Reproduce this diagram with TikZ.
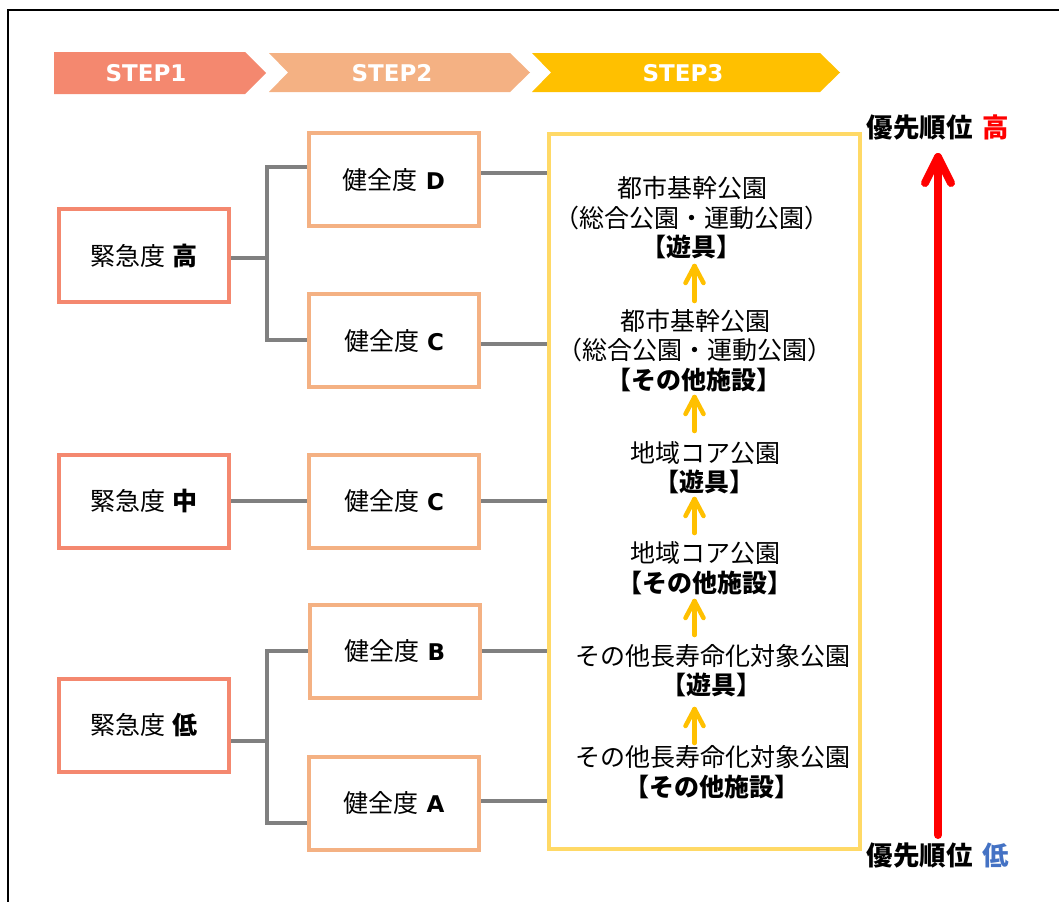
\documentclass[tikz,border=0pt]{standalone}
\usepackage{fontspec}
\setmainfont{Noto Sans CJK JP}
\newfontfamily\lat{DejaVu Sans}
\usetikzlibrary{calc}
\definecolor{salmon}{HTML}{F4886F}
\definecolor{peach}{HTML}{F4B183}
\definecolor{gold}{HTML}{FFC000}
\definecolor{ylw}{HTML}{FFD966}
\definecolor{lgray}{HTML}{808080}
\definecolor{lowblue}{HTML}{4472C4}
\definecolor{hired}{HTML}{FF0000}
\newcommand{\ltr}[1]{{\lat\bfseries\fontsize{23}{28}\selectfont #1}}
\begin{document}
\begin{tikzpicture}[x=1pt,y=-1pt,
  urg/.style={draw=salmon, line width=4pt, minimum width=170pt, minimum height=93pt, inner sep=0pt, font=\fontsize{25}{28}\selectfont},
  hlt/.style={draw=peach, line width=4pt, minimum width=170pt, minimum height=93pt, inner sep=0pt, font=\fontsize{25}{28}\selectfont},
  ybox/.style={draw=ylw, line width=4pt, minimum width=311pt, minimum height=715pt, inner sep=0pt},
  conn/.style={draw=lgray, line width=4pt},
  ln/.style={anchor=base, inner sep=0pt, font=\fontsize{25}{28}\selectfont},
  bln/.style={anchor=base, inner sep=0pt, font=\fontsize{25}{28}\selectfont\bfseries},
  yarr/.style={draw=gold, line width=4.5pt, line cap=round, line join=round},
  rarr/.style={draw=hired, line width=8pt, line cap=round, line join=round},
  steptxt/.style={text=white, inner sep=0pt, font=\lat\bfseries\fontsize{23}{26}\selectfont},
  plabel/.style={anchor=base, inner sep=0pt, font=\fontsize{26.5}{30}\selectfont\bfseries}
]
\useasboundingbox (0,0) rectangle (1059,902);
% outer frame
\draw[line width=2.5pt] (1059,10) -- (8,10) -- (8,902);

% step chevrons
\fill[salmon] (54,52) -- (245,52) -- (266,73) -- (245,94) -- (54,94) -- cycle;
\node[steptxt] (s1) at (146,73) {STEP1};
\fill[peach] (269,53) -- (510,53) -- (530,72.5) -- (510,92) -- (269,92) -- (288,72.5) -- cycle;
\node[steptxt] (s2) at (392,73) {STEP2};
\fill[gold] (532,53) -- (820,53) -- (840,72.5) -- (820,92) -- (532,92) -- (551,72.5) -- cycle;
\node[steptxt] (s3) at (683,73) {STEP3};

% urgency boxes
\node[urg] (hi) at (144,255.5) {緊急度\hspace{7pt}{\bfseries 高}};
\node[urg] (mid) at (144,501) {緊急度\hspace{7pt}{\bfseries 中}};
\node[urg] (lo) at (144,725) {緊急度\hspace{7pt}{\bfseries 低}};

% health boxes
\node[hlt] (D) at (394,179.5) {健全度\hspace{8pt}\ltr{D}};
\node[hlt] (C1) at (394,340.5) {健全度\hspace{8pt}\ltr{C}};
\node[hlt] (Cm) at (394,501) {健全度\hspace{8pt}\ltr{C}};
\node[hlt] (B) at (395,651) {健全度\hspace{8pt}\ltr{B}};
\node[hlt] (A) at (394,803) {健全度\hspace{8pt}\ltr{A}};

% step3 box
\node[ybox] (Y) at (704.5,491.5) {};

% connectors left
\coordinate (j1) at (267,258);
\draw[conn] ([yshift=-2.5pt]hi.east) -- (j1);
\draw[conn] ([yshift=12.5pt]D.west) -| (j1) |- ([yshift=0.5pt]C1.west);
\draw[conn] (mid.east) -- (Cm.west);
\coordinate (j3) at (267,741);
\draw[conn] ([yshift=-16pt]lo.east) -- (j3);
\draw[conn] (B.west) -| (j3) |- ([yshift=-20pt]A.west);

% connectors right
\coordinate (dr) at ([yshift=6.5pt]D.east);
\draw[conn] (dr) -- (dr -| Y.west);
\coordinate (cr) at ([yshift=-3.5pt]C1.east);
\draw[conn] (cr) -- (cr -| Y.west);
\draw[conn] (Cm.east) -- (Cm.east -| Y.west);
\draw[conn] (B.east) -- (B.east -| Y.west);
\coordinate (ar) at ([yshift=2pt]A.east);
\draw[conn] (ar) -- (ar -| Y.west);

% step3 texts
\node[ln] (t1a) at (692,197) {都市基幹公園};
\node[ln] (t1b) at (692,227) {（総合公園・運動公園）};
\node[bln] (t1c) at (691,256) {【遊具】};
\node[ln] (t2a) at (695,330) {都市基幹公園};
\node[ln] (t2b) at (695,359) {（総合公園・運動公園）};
\node[bln] (t2c) at (694,389) {【その他施設】};
\node[ln] (t3a) at (705,462) {地域コア公園};
\node[bln] (t3b) at (704,491) {【遊具】};
\node[ln] (t4a) at (705,562) {地域コア公園};
\node[bln] (t4b) at (704.5,592) {【その他施設】};
\node[ln] (t5a) at (712.5,665) {その他長寿命化対象公園};
\node[bln] (t5b) at (711,694) {【遊具】};
\node[ln] (t6a) at (713,766) {その他長寿命化対象公園};
\node[bln] (t6b) at (712,796) {【その他施設】};

% yellow arrows
\foreach \n/\b/\t in {1/301/266, 2/431/397, 3/533/499, 4/635/601, 5/743/709}{
  \coordinate (yb\n) at (694.5,\b);
  \coordinate (yt\n) at (694.5,\t);
  \draw[yarr] (yb\n) -- (yt\n);
  \draw[yarr] (yt\n) ++(-9,17) -- (yt\n) -- ++(9,17);
}

% priority arrow
\coordinate (rb) at (938,835);
\coordinate (rt) at (938,157);
\draw[rarr] (rb) -- (rt);
\draw[rarr] (rt) ++(-13,26) -- (rt) -- ++(13,26);
\node[plabel] (ph) at (938,137) {優先順位\hspace{10pt}\textcolor{hired}{高}};
\node[plabel] (pl) at (938,865) {優先順位\hspace{10pt}\textcolor{lowblue}{低}};
\end{tikzpicture}
\end{document}
